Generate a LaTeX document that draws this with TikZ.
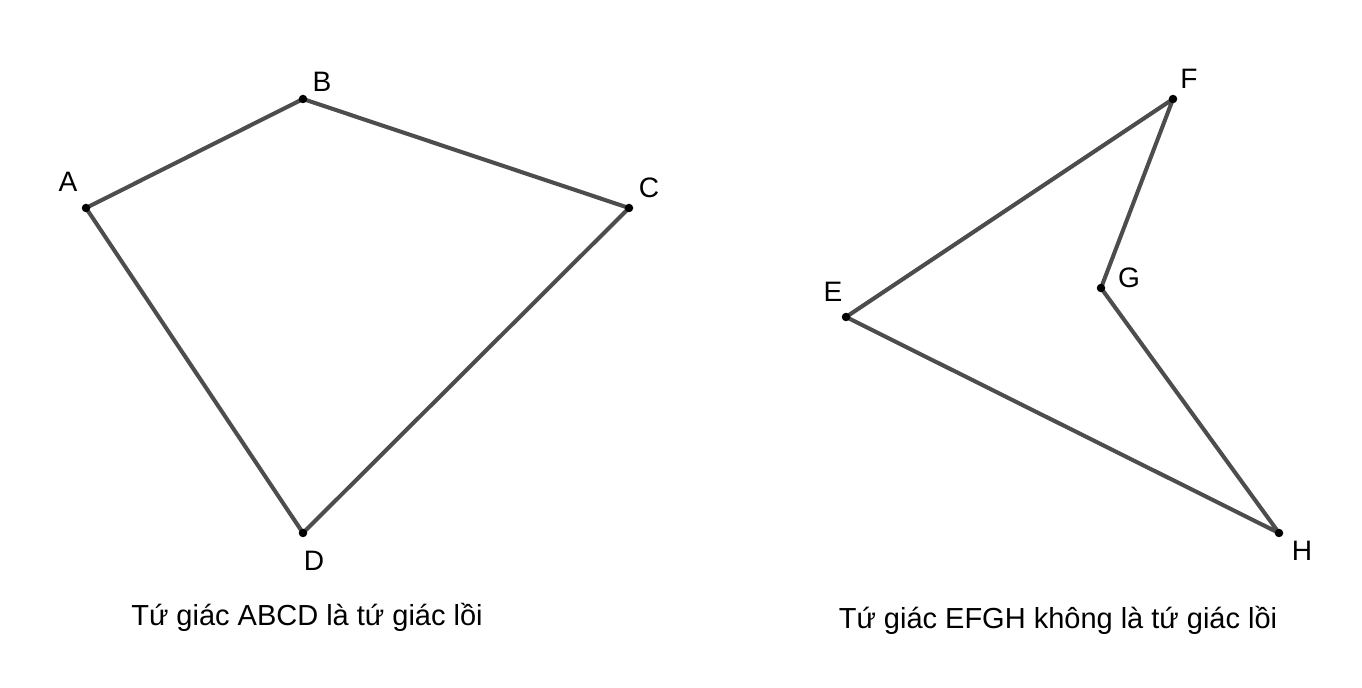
\documentclass[tikz,border=0pt]{standalone}
\usepackage{fontspec}
\setmainfont{Liberation Sans}
\definecolor{edge}{HTML}{4D4D4D}
\begin{document}
\begin{tikzpicture}[x=0.02cm,y=-0.02cm,
  pt/.style={circle,fill=black,inner sep=0pt,minimum size=0.17cm},
  lab/.style={font=\fontsize{16}{18}\selectfont},
  captext/.style={font=\fontsize{16.5}{19}\selectfont},
  side/.style={draw=edge,line width=2.3pt,line join=round}]
\useasboundingbox (0,0) rectangle (1362,688);
\fill[white] (0,0) rectangle (1362,688);
\coordinate (A) at (86,208); \coordinate (B) at (303,99);
\coordinate (C) at (629,208); \coordinate (D) at (303,533);
\coordinate (E) at (846,317); \coordinate (F) at (1173,99);
\coordinate (G) at (1101,288); \coordinate (H) at (1279,533);
\draw[side] (A) -- (B) -- (C) -- (D) -- cycle;
\draw[side] (E) -- (F) -- (G) -- (H) -- cycle;
\foreach \p in {A,B,C,D,E,F,G,H} \node[pt] (n\p) at (\p) {};
\node[lab] (lA) at (68,182) {A};
\node[lab] (lB) at (322,82) {B};
\node[lab] (lC) at (649,188) {C};
\node[lab] (lD) at (314,561) {D};
\node[lab] (lE) at (833,292) {E};
\node[lab] (lF) at (1189,79) {F};
\node[lab] (lG) at (1129,278) {G};
\node[lab] (lH) at (1302,551) {H};
\node[captext] (c1) at (307,617) {Tứ giác ABCD là tứ giác lồi};
\node[captext] (c2) at (1058,620) {Tứ giác EFGH không là tứ giác lồi};
\end{tikzpicture}
\end{document}
